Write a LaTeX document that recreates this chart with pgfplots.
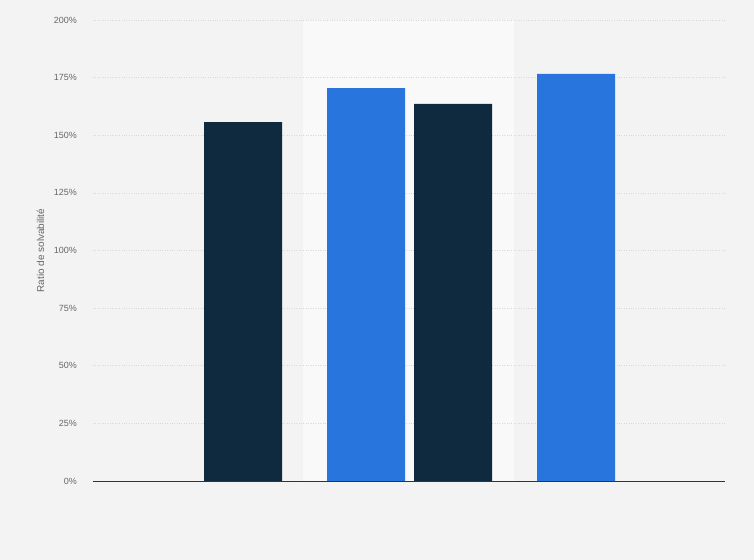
\documentclass[border=0pt]{standalone}
\usepackage{fontspec}
\setmainfont{Liberation Sans}
\usepackage{pgfplots}
\pgfplotsset{compat=1.18}

\definecolor{bgpanel}{HTML}{F3F3F3}
\definecolor{band}{HTML}{F9F9F9}
\definecolor{navy}{HTML}{0F2A3F}
\definecolor{bluebar}{HTML}{2876DD}
\definecolor{gridc}{HTML}{D8D8D8}
\definecolor{ticktxt}{HTML}{666666}

\begin{document}
\begin{tikzpicture}
    % page background and highlighted column
    \fill[bgpanel] (0,0) rectangle (754bp,560bp);
    \fill[band] (303bp,79bp) rectangle (514bp,540bp);
    \begin{axis}[
        at={(93bp,79bp)}, anchor=south west,
        scale only axis,
        width=632bp, height=461bp,
        xmin=93, xmax=725,
        ymin=0, ymax=200,
        ytick={0,25,...,200},
        yticklabel={\pgfmathprintnumber{\tick}\%},
        /pgf/number format/assume math mode=true,
        xtick=\empty,
        ymajorgrids,
        major grid style={gridc, dotted, line width=0.6pt},
        axis x line*=bottom,
        axis y line*=left,
        x axis line style={-, draw=black!80, line width=0.8pt},
        y axis line style={draw=none},
        major tick length=0pt,
        tick label style={font=\fontsize{9}{10}\selectfont, text=ticktxt},
        yticklabel style={inner sep=0pt, xshift=-16bp},
        ylabel={Ratio de solvabilité},
        ylabel style={font=\fontsize{10}{11}\selectfont, text=ticktxt,
            at={(axis description cs:-0.083,0.5)}, anchor=center},
        ybar, bar width=78bp,
        clip=false,
    ]
    % dark series
    \addplot[draw=none, fill=navy, bar shift=0pt] coordinates {
      (243,155.7)
      (453,163.6)
    };
    % blue series
    \addplot[draw=none, fill=bluebar, bar shift=0pt] coordinates {
      (366,170.4)
      (576,176.6)
    };
    \end{axis}
\end{tikzpicture}
\end{document}
